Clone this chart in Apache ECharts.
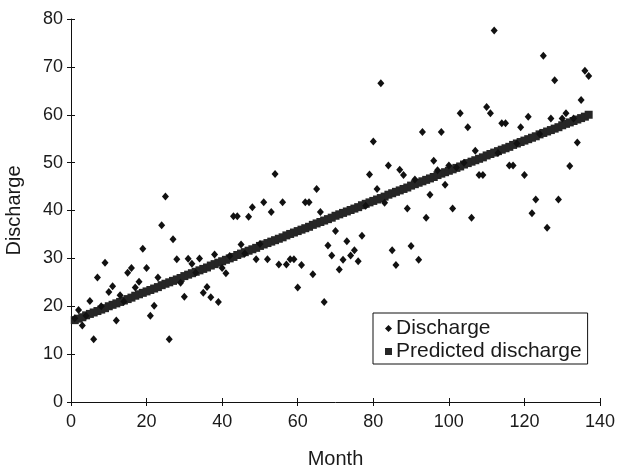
<!DOCTYPE html>
<html>
<head>
<meta charset="utf-8">
<script src="https://cdn.jsdelivr.net/npm/echarts@6/dist/echarts.min.js"></script>
<style>html,body{margin:0;padding:0;background:#fff}#c{width:633px;height:469px}</style>
</head>
<body>
<div id="c"></div>
<script>
var months = [];
for (var i = 1; i <= 137; i++) months.push(i);

var discharge = [
17.5,19.2,16.0,18.0,21.1,13.1,26.0,20.0,29.1,23.0,
24.2,17.0,22.3,21.0,27.0,28.0,23.9,25.1,32.0,28.0,
18.0,20.1,26.0,36.9,42.9,13.1,34.0,29.8,24.9,22.0,
29.9,28.9,27.0,30.0,22.8,24.0,21.9,30.8,20.9,28.0,
26.9,30.5,38.8,38.8,32.9,31.0,38.7,40.7,29.8,33.0,
41.7,29.8,39.7,47.6,28.7,41.7,28.7,29.8,29.8,23.9,
28.6,41.7,41.7,26.7,44.5,39.7,20.9,32.7,30.6,35.7,
27.7,29.7,33.6,30.6,31.7,29.4,34.7,41.0,47.5,54.4,
44.5,66.6,41.6,49.4,31.7,28.6,48.5,47.4,40.4,32.6,
46.5,29.7,56.4,38.5,43.3,50.4,48.4,56.4,45.4,49.4,
40.4,49.0,60.3,50.0,57.4,38.5,52.5,47.4,47.4,61.6,
60.3,77.6,52.0,58.2,58.2,49.4,49.4,54.0,57.4,47.4,
59.6,39.4,42.3,56.0,72.3,36.4,59.2,67.2,42.3,59.2,
60.3,49.3,59.2,54.2,63.1,69.2,68.1
];

var predicted = [
17.1,17.4,17.7,18.1,18.4,18.7,19.0,19.3,19.6,20.0,
20.3,20.6,20.9,21.2,21.5,21.8,22.2,22.5,22.8,23.1,
23.4,23.7,24.0,24.4,24.7,25.0,25.3,25.6,25.9,26.3,
26.6,26.9,27.2,27.5,27.8,28.1,28.5,28.8,29.1,29.4,
29.7,30.0,30.3,30.7,31.0,31.3,31.6,31.9,32.2,32.6,
32.9,33.2,33.5,33.8,34.1,34.4,34.8,35.1,35.4,35.7,
36.0,36.3,36.6,37.0,37.3,37.6,37.9,38.2,38.5,38.9,
39.2,39.5,39.8,40.1,40.4,40.7,41.1,41.4,41.7,42.0,
42.3,42.6,42.9,43.3,43.6,43.9,44.2,44.5,44.8,45.2,
45.5,45.8,46.1,46.4,46.7,47.0,47.4,47.7,48.0,48.3,
48.6,48.9,49.2,49.6,49.9,50.2,50.5,50.8,51.1,51.5,
51.8,52.1,52.4,52.7,53.0,53.3,53.7,54.0,54.3,54.6,
54.9,55.2,55.5,55.9,56.2,56.5,56.8,57.1,57.4,57.8,
58.1,58.4,58.7,59.0,59.3,59.6,60.0
];

var xTicks = [0,20,40,60,80,100,120,140];
var yTicks = [0,10,20,30,40,50,60,70,80];

function pairs(vals){ return months.map(function(m,i){ return [m, vals[i]]; }); }

var FONT = 'Liberation Sans, Arial, sans-serif';
var INK = '#1a1a1a';

var chart = echarts.init(document.getElementById('c'), null, {renderer:'canvas'});
chart.setOption({
  animation: false,
  backgroundColor: '#fff',
  grid: {left: 71, right: 33, top: 19, bottom: 67, containLabel: false, outerBoundsMode: 'none'},
  legend: {
    data: [{name:'Discharge', icon:'diamond'}, {name:'Predicted discharge', icon:'rect'}],
    orient: 'vertical', left: 373, top: 313,
    itemWidth: 7, itemHeight: 7, itemGap: 2,
    padding: [5, 6, 2, 12],
    borderColor: '#111', borderWidth: 1, backgroundColor: '#fff',
    textStyle: {fontFamily: FONT, fontSize: 21, color: INK, padding: [0,0,0,-1]}
  },
  xAxis: [{
    type: 'value', min: xTicks[0], max: xTicks[xTicks.length-1], interval: 20,
    name: 'Month', nameLocation: 'middle', nameGap: 47,
    nameTextStyle: {fontFamily: FONT, fontSize: 20, color: INK},
    axisLine: {show: true, onZero: false, lineStyle: {color: '#111', width: 1}},
    axisTick: {show: true, inside: false, length: 4, lineStyle: {color: '#111'}},
    axisLabel: {fontFamily: FONT, fontSize: 18, color: INK, margin: 11},
    splitLine: {show: false}
  },{
    type: 'value', min: xTicks[0], max: xTicks[xTicks.length-1], interval: 20, position: 'bottom',
    axisLine: {show: false}, axisTick: {show: true, inside: true, length: 4, lineStyle: {color: '#111'}},
    axisLabel: {show: false}, splitLine: {show: false}
  }],
  yAxis: [{
    type: 'value', min: yTicks[0], max: yTicks[yTicks.length-1], interval: 10,
    name: 'Discharge', nameLocation: 'middle', nameGap: 47, nameRotate: 90,
    nameTextStyle: {fontFamily: FONT, fontSize: 20, color: INK},
    axisLine: {show: true, onZero: false, lineStyle: {color: '#111', width: 1}},
    axisTick: {show: true, inside: false, length: 4, lineStyle: {color: '#111'}},
    axisLabel: {fontFamily: FONT, fontSize: 18, color: INK, margin: 8},
    splitLine: {show: false}
  },{
    type: 'value', min: yTicks[0], max: yTicks[yTicks.length-1], interval: 10, position: 'left',
    axisLine: {show: false}, axisTick: {show: true, inside: true, length: 4, lineStyle: {color: '#111'}},
    axisLabel: {show: false}, splitLine: {show: false}
  }],
  series: [{
    name: 'Predicted discharge', type: 'scatter', symbol: 'rect', symbolSize: 8,
    itemStyle: {color: '#262626', opacity: 1},
    data: pairs(predicted), z: 2
  },{
    name: 'Discharge', type: 'scatter', symbol: 'diamond', symbolSize: [7, 8],
    itemStyle: {color: '#111', opacity: 1},
    data: pairs(discharge), z: 3
  }]
});
</script>
</body>
</html>
